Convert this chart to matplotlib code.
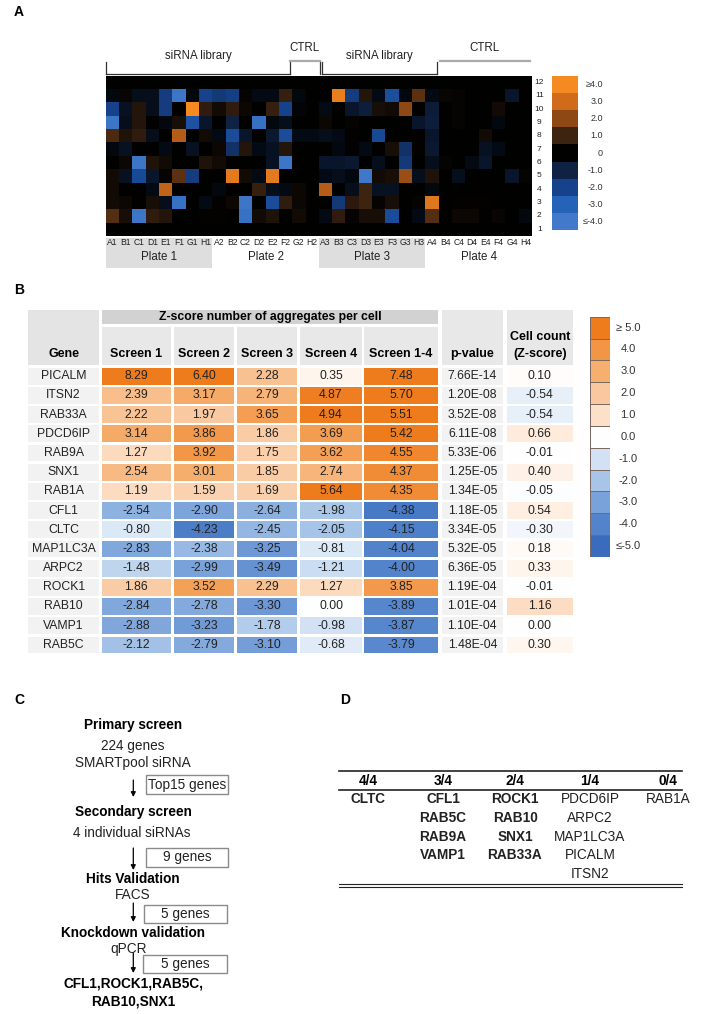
import numpy as np
import matplotlib
matplotlib.use('Agg')
import matplotlib.pyplot as plt
from matplotlib.colors import LinearSegmentedColormap, Normalize
from matplotlib.patches import Rectangle

plt.rcParams['font.family'] = ['Liberation Sans', 'DejaVu Sans']

# ---------------- data: panel A (plate heatmap, rows 12 -> 1) ----------------
plate_cols = ['A1', 'B1', 'C1', 'D1', 'E1', 'F1', 'G1', 'H1',
              'A2', 'B2', 'C2', 'D2', 'E2', 'F2', 'G2', 'H2',
              'A3', 'B3', 'C3', 'D3', 'E3', 'F3', 'G3', 'H3',
              'A4', 'B4', 'C4', 'D4', 'E4', 'F4', 'G4', 'H4']
plate_rows = [12, 11, 10, 9, 8, 7, 6, 5, 4, 3, 2, 1]
heat_values = [
    [0, 0, 0, 0, 0, 0, 0, 0, 0, 0, 0, 0, 0, 0, 0, 0, 0, 0, 0, 0, 0, 0, 0, 0, 0, 0, 0, 0, 0, 0, 0, 0],
    [-0.2, 0.15, -0.4, -0.4, -1.8, -3.8, -0.2, -2.0, -1.7, -1.9, 0.1, -0.3, -0.3, 0.9, -0.2, 0,
     0, 3.6, -1.8, 0.6, -0.3, -2.4, -0.2, 1.4, -0.3, 0.15, 0.1, 0, 0, 0, -0.6, 0],
    [-2.0, -0.5, 0.6, -0.4, -1.8, 0, 4.0, 0.8, 0.3, 0.8, 0.2, 0, 0.9, -2.0, -0.1, 0,
     -0.3, 0, -0.6, -0.9, 0.4, 0.3, 2.0, 0, -0.8, 0, 0.1, 0, 0, 0.3, 0, 0],
    [-3.8, -0.4, 0.6, 0, -0.2, 0.4, -2.5, -0.6, 0, -1.0, 0, -3.6, -0.2, -0.4, 0, 0,
     0.2, 0, 0.1, 0, 0, 0, 0, -0.6, -0.9, 0, 0.1, 0, 0, -0.2, 0, 0],
    [1.2, 0.5, 0.8, -0.4, 0, 2.6, 0, 0.3, -0.3, -2.3, -0.6, 0, -0.7, -2.3, -0.3, -0.3,
     -0.4, -0.3, 0.05, 0, -2.2, 0, 0, 0.05, -0.6, 0, 0, 0, 0.3, 0, 0, 0],
    [-0.2, -0.5, 0, 0, -0.3, 0, -0.5, 0, 0.2, -1.5, 0.6, -0.3, -0.5, 0.6, 0, 0,
     0, -0.2, 0.05, -0.3, 0, 0.4, -1.5, 0.05, -0.7, 0, 0, 0, -0.5, -0.3, 0, 0],
    [0, 0.2, -3.8, 0.5, 0.3, 0, 0, 0.5, 0.3, 0, 0, 0, -0.5, -3.8, 0, 0,
     -0.6, -0.6, -0.7, 0, -0.4, 0, -1.7, 0, -0.4, 0.1, 0, -0.3, -0.6, 0, 0, 0],
    [0.3, -0.5, -2.2, -0.6, 0.1, 1.4, -1.8, 0, 0, 3.5, 0.3, -0.3, 3.5, 0, 0, 0,
     -0.3, -0.4, -0.2, -3.9, 0.3, 0.4, 2.2, -0.4, 0.5, 0, -0.4, 0, 0, 0, -0.6, 0.1],
    [0.3, 0, 0, -0.3, 2.8, 0, 0, 0, -0.2, 0, 0, 0.9, -0.4, -0.3, 0.2, 0,
     2.6, 0, -0.4, 1.0, -0.5, -0.5, 0, 0, -0.2, 0, 0, 0, 0, 0, 0, 0],
    [0.3, 0.2, 0, 0.4, -0.4, -3.6, 0, -0.3, 0.05, 0.2, -3.8, 0, -2.3, 0.8, 0.2, 0,
     0, -1.7, 0.7, 1.0, 0.1, 0.4, 0, 0.1, 3.4, 0, 0.05, 0.05, 0.05, 0, 0, 0],
    [1.3, 0.4, -3.8, 0.8, 0.6, 0, 0, 0.05, 0.05, 0, -3.6, 0.3, 0.5, 0, 0.3, 0,
     -0.3, 0.8, 0.1, 0.4, 0.4, -2.3, 0, -0.3, 1.3, 0, 0.2, 0.2, 0, 0.15, 0, -0.2],
    [0, 0, 0, 0, 0, 0, 0, 0, 0, 0, 0, 0, 0, 0, 0, 0, 0, 0, 0, 0, 0, 0, 0, 0, 0, 0, 0, 0, 0, 0, 0, 0],
]
plate_names = ['Plate 1', 'Plate 2', 'Plate 3', 'Plate 4']
cbA_values = [-4, -3, -2, -1, 0, 1, 2, 3, 4]
cbA_labels = ['\u2264-4.0', '-3.0', '-2.0', '-1.0', '0', '1.0', '2.0', '3.0', '\u22654.0']

# ---------------- data: panel B (table) ----------------
genes = ['PICALM', 'ITSN2', 'RAB33A', 'PDCD6IP', 'RAB9A', 'SNX1', 'RAB1A', 'CFL1',
         'CLTC', 'MAP1LC3A', 'ARPC2', 'ROCK1', 'RAB10', 'VAMP1', 'RAB5C']
screen1 = [8.29, 2.39, 2.22, 3.14, 1.27, 2.54, 1.19, -2.54, -0.80, -2.83, -1.48, 1.86, -2.84, -2.88, -2.12]
screen2 = [6.40, 3.17, 1.97, 3.86, 3.92, 3.01, 1.59, -2.90, -4.23, -2.38, -2.99, 3.52, -2.78, -3.23, -2.79]
screen3 = [2.28, 2.79, 3.65, 1.86, 1.75, 1.85, 1.69, -2.64, -2.45, -3.25, -3.49, 2.29, -3.30, -1.78, -3.10]
screen4 = [0.35, 4.87, 4.94, 3.69, 3.62, 2.74, 5.64, -1.98, -2.05, -0.81, -1.21, 1.27, 0.00, -0.98, -0.68]
screen14 = [7.48, 5.70, 5.51, 5.42, 4.55, 4.37, 4.35, -4.38, -4.15, -4.04, -4.00, 3.85, -3.89, -3.87, -3.79]
pvalues = ['7.66E-14', '1.20E-08', '3.52E-08', '6.11E-08', '5.33E-06', '1.25E-05', '1.34E-05',
           '1.18E-05', '3.34E-05', '5.32E-05', '6.36E-05', '1.19E-04', '1.01E-04', '1.10E-04', '1.48E-04']
cellcount = [0.10, -0.54, -0.54, 0.66, -0.01, 0.40, -0.05, 0.54, -0.30, 0.18, 0.33, -0.01, 1.16, 0.00, 0.30]
screen_headers = ['Screen 1', 'Screen 2', 'Screen 3', 'Screen 4', 'Screen 1-4']
cbB_values = [-5, -4, -3, -2, -1, 0, 1, 2, 3, 4, 5]
cbB_labels = ['\u2264-5.0', '-4.0', '-3.0', '-2.0', '-1.0', '0.0', '1.0', '2.0', '3.0', '4.0', '\u2265 5.0']

# ---------------- data: panel C (workflow) ----------------
steps_title = ['Primary screen', 'Secondary screen', 'Hits Validation', 'Knockdown validation']
steps_detail = [['224 genes', 'SMARTpool siRNA'], ['4 individual siRNAs'], ['FACS'], ['qPCR']]
steps_output = ['Top15 genes', '9 genes', '5 genes', '5 genes']
final_genes = ['CFL1,ROCK1,RAB5C,', 'RAB10,SNX1']

# ---------------- data: panel D ----------------
d_headers = ['4/4', '3/4', '2/4', '1/4', '0/4']
d_genes = [['CLTC'], ['CFL1', 'RAB5C', 'RAB9A', 'VAMP1'], ['ROCK1', 'RAB10', 'SNX1', 'RAB33A'],
           ['PDCD6IP', 'ARPC2', 'MAP1LC3A', 'PICALM', 'ITSN2'], ['RAB1A']]
d_bold = [True, True, True, False, False]

# ---------------- figure ----------------
W, H, DPI = 709, 1014, 100
fig = plt.figure(figsize=(W / DPI, H / DPI), dpi=DPI)
ov = fig.add_axes([0, 0, 1, 1])
ov.set_xlim(0, W)
ov.set_ylim(H, 0)
ov.axis('off')


def px_axes(x0, y0, x1, y1):
    return fig.add_axes([x0 / W, 1 - y1 / H, (x1 - x0) / W, (y1 - y0) / H])


# panel letters
for letter, (lx, ly) in zip('ABCD', [(14, 12), (14, 290), (14, 700), (340, 700)]):
    ov.text(lx, ly, letter, fontsize=10, fontweight='bold', ha='left', va='center')

# ---------- Panel A ----------
cmapA = LinearSegmentedColormap.from_list('plate', [
    (0.0, '#4279cb'), (1 / 8, '#2563b8'), (2 / 8, '#15428c'), (3 / 8, '#0f2244'),
    (0.5, '#000000'), (5 / 8, '#3b2311'), (6 / 8, '#8b4714'), (7 / 8, '#cf6a1b'), (1.0, '#f58b20')])
normA = Normalize(-4, 4)

axh = px_axes(105.7, 75.7, 532, 236)
Z = np.array(heat_values[::-1], dtype=float)
axh.pcolormesh(np.arange(len(plate_cols) + 1), np.arange(len(plate_rows) + 1), Z,
               cmap=cmapA, norm=normA, shading='flat')
axh.set_xlim(0, len(plate_cols))
axh.set_ylim(0, len(plate_rows))
axh.axis('off')
for i, c in enumerate(plate_cols):
    axh.text(i + 0.5, -0.5, c, fontsize=6.2, ha='center', va='center', clip_on=False, zorder=5,
             color='#222222')
for r in plate_rows:
    axh.text(32.55, r - 0.5, str(r), fontsize=6.0, ha='center', va='center', clip_on=False,
             color='#222222')
for k, name in enumerate(plate_names):
    if k % 2 == 0:
        axh.add_patch(Rectangle((k * 8, -2.4), 8, 2.25, facecolor='#dedede', edgecolor='none',
                                clip_on=False, zorder=1))
    axh.text(k * 8 + 4, -1.6, name, fontsize=8.3, ha='center', va='center', clip_on=False,
             color='#222222', zorder=5)

# brackets above heatmap
lk = dict(color='#333333', lw=0.9)
ov.plot([105.7, 290], [74, 74], **lk)
ov.plot([105.7, 105.7], [62, 74], **lk)
ov.plot([290, 290], [61, 74], **lk)
ov.plot([320, 320], [61, 74], **lk)
ov.plot([290, 320], [61, 61], color='#aaaaaa', lw=1.6)
ov.plot([321.7, 436.7], [73.5, 73.5], **lk)
ov.plot([321.7, 321.7], [62, 73.5], **lk)
ov.plot([436.7, 436.7], [62, 73.5], **lk)
ov.plot([440, 530], [61, 61], color='#aaaaaa', lw=1.6)
ov.text(198, 59.5, 'siRNA library', fontsize=8.3, ha='center', va='baseline', color='#222222')
ov.text(379, 59.5, 'siRNA library', fontsize=8.3, ha='center', va='baseline', color='#222222')
ov.text(305, 48, 'CTRL', fontsize=8.3, ha='center', va='center', color='#222222')
ov.text(485, 48, 'CTRL', fontsize=8.3, ha='center', va='center', color='#222222')

# colorbar A
axca = px_axes(552, 76, 578, 230)
axca.pcolormesh([0, 1], np.arange(len(cbA_values) + 1), np.array(cbA_values, float).reshape(-1, 1),
                cmap=cmapA, norm=normA)
axca.set_xlim(0, 1)
axca.set_ylim(0, len(cbA_values))
axca.axis('off')
for k, lab in enumerate(cbA_labels):
    axca.text(1.96, k + 0.5, lab, fontsize=6.5, ha='right', va='center', clip_on=False, color='#333333')

# ---------- Panel B ----------
cmapB = LinearSegmentedColormap.from_list('zs', [
    (0.0, '#3a6bbd'), (0.1, '#5283cb'), (0.2, '#7aa2da'), (0.3, '#a9c6e8'), (0.4, '#d2e2f4'),
    (0.5, '#ffffff'), (0.6, '#fde0c8'), (0.7, '#f9c9a0'), (0.8, '#f6af6f'), (0.9, '#f29645'),
    (1.0, '#ee7b1c')])
normB = Normalize(-5, 5)

col_x = [28.3, 101.7, 174, 237, 300, 364.3, 441.7, 506.7]
col_w = [70.7, 69.3, 60, 60, 62, 73.7, 61.3, 66]
row_top, row_pitch, row_h = 367.7, 19.2, 16.8
fs_tab = 8.8

# header
ov.add_patch(Rectangle((col_x[0], 310), col_w[0], 55.3, facecolor='#e4e4e4', edgecolor='none'))
ov.text(col_x[0] + col_w[0] / 2, 354, 'Gene', fontsize=9, fontweight='bold', ha='center', va='center')
zx0, zx1 = col_x[1], col_x[5] + col_w[5]
ov.add_patch(Rectangle((zx0, 310), zx1 - zx0, 14.3, facecolor='#d2d2d2', edgecolor='none'))
ov.text((zx0 + zx1) / 2, 317.3, 'Z-score number of aggregates per cell', fontsize=8.8,
        fontweight='bold', ha='center', va='center')
for j, hdr in enumerate(screen_headers):
    ov.add_patch(Rectangle((col_x[j + 1], 326.7), col_w[j + 1], 38.6, facecolor='#e8e8e8', edgecolor='none'))
    ov.text(col_x[j + 1] + col_w[j + 1] / 2, 354, hdr, fontsize=9, fontweight='bold', ha='center', va='center')
ov.add_patch(Rectangle((col_x[6], 310), col_w[6], 55.3, facecolor='#e8e8e8', edgecolor='none'))
ov.text(col_x[6] + col_w[6] / 2, 354, 'p-value', fontsize=9, fontweight='bold', ha='center', va='center')
ov.add_patch(Rectangle((col_x[7], 310), col_w[7], 55.3, facecolor='#e8e8e8', edgecolor='none'))
ov.text(col_x[7] + col_w[7] / 2, 337, 'Cell count', fontsize=9, fontweight='bold', ha='center', va='center')
ov.text(col_x[7] + col_w[7] / 2, 354, '(Z-score)', fontsize=9, fontweight='bold', ha='center', va='center')

screens = [screen1, screen2, screen3, screen4, screen14]
for i, g in enumerate(genes):
    y0 = row_top + i * row_pitch
    yc = y0 + row_h / 2
    ov.add_patch(Rectangle((col_x[0], y0), col_w[0], row_h, facecolor='#f2f2f2', edgecolor='none'))
    ov.text(col_x[0] + col_w[0] / 2, yc, g, fontsize=fs_tab, ha='center', va='center', color='#222222')
    for j, sc in enumerate(screens):
        v = sc[i]
        ov.add_patch(Rectangle((col_x[j + 1], y0), col_w[j + 1], row_h,
                               facecolor=cmapB(normB(v)), edgecolor='none'))
        ov.text(col_x[j + 1] + col_w[j + 1] / 2, yc, f'{v:.2f}', fontsize=fs_tab, ha='center',
                va='center', color='#222222')
    ov.add_patch(Rectangle((col_x[6], y0), col_w[6], row_h, facecolor='#f2f2f2', edgecolor='none'))
    ov.text(col_x[6] + col_w[6] / 2, yc, pvalues[i], fontsize=fs_tab, ha='center', va='center', color='#222222')
    v = cellcount[i]
    ov.add_patch(Rectangle((col_x[7], y0), col_w[7], row_h, facecolor=cmapB(normB(v)), edgecolor='none'))
    ov.text(col_x[7] + col_w[7] / 2, yc, f'{v:.2f}', fontsize=fs_tab, ha='center', va='center', color='#222222')

# colorbar B
axcb = px_axes(590, 316.7, 610, 557)
axcb.pcolormesh([0, 1], np.arange(len(cbB_values) + 1), np.array(cbB_values, float).reshape(-1, 1),
                cmap=cmapB, norm=normB, edgecolors='#7a6a62', linewidth=0.4)
axcb.set_xlim(0, 1)
axcb.set_ylim(0, len(cbB_values))
axcb.axis('off')
for k, lab in enumerate(cbB_labels):
    axcb.text(1.9, k + 0.5, lab, fontsize=8, ha='center', va='center', clip_on=False, color='#333333')

# ---------- Panel C ----------
fsC = 9.8
cx = 133
title_y = [725, 811.7, 879, 932.7]
detail_y = [[746, 762.7], [832.7], [895], [949]]
detail_x = [133, 132, 133, 128.5]
arrow_y = [(780, 797), (848, 870), (903, 922), (953, 973)]
box_xywh = [(146, 775, 82, 19), (146, 848, 82, 19), (144, 905, 83, 18), (143, 955, 84, 18)]
for k in range(4):
    ov.text(cx, title_y[k], steps_title[k], fontsize=fsC, fontweight='bold', ha='center', va='center')
    for t, yy in zip(steps_detail[k], detail_y[k]):
        ov.text(detail_x[k], yy, t, fontsize=fsC, ha='center', va='center', color='#222222')
    ya, yb = arrow_y[k]
    ov.annotate('', xy=(133.3, yb), xytext=(133.3, ya),
                arrowprops=dict(arrowstyle='-|>', lw=0.9, color='black', mutation_scale=7,
                                shrinkA=0, shrinkB=0))
    bx, by, bw, bh = box_xywh[k]
    ov.add_patch(Rectangle((bx, by), bw, bh, fill=False, edgecolor='#8a8a8a', lw=1.0))
    ov.text(bx + bw / 2, by + bh / 2, steps_output[k], fontsize=fsC, ha='center', va='center', color='#222222')
for t, yy in zip(final_genes, [983, 1001.7]):
    ov.text(cx, yy, t, fontsize=fsC, fontweight='bold', ha='center', va='center')

# ---------- Panel D ----------
d_x = [368, 443, 515, 590, 668]
ov.plot([339, 682], [770.7, 770.7], color='#222222', lw=1.2)
ov.plot([339, 682], [790, 790], color='#222222', lw=1.2)
ov.plot([339, 682], [883.5, 883.5], color='#222222', lw=0.8)
ov.plot([339, 682], [886.5, 886.5], color='#222222', lw=0.8)
for k, hdr in enumerate(d_headers):
    ov.text(d_x[k], 781, hdr, fontsize=fsC, fontweight='bold', ha='center', va='center')
    for r, g in enumerate(d_genes[k]):
        ov.text(d_x[k], 799.3 + r * 18.7, g, fontsize=fsC, ha='center', va='center',
                fontweight='bold' if d_bold[k] else 'normal', color='#222222')

fig.savefig('out.png', dpi=DPI)
